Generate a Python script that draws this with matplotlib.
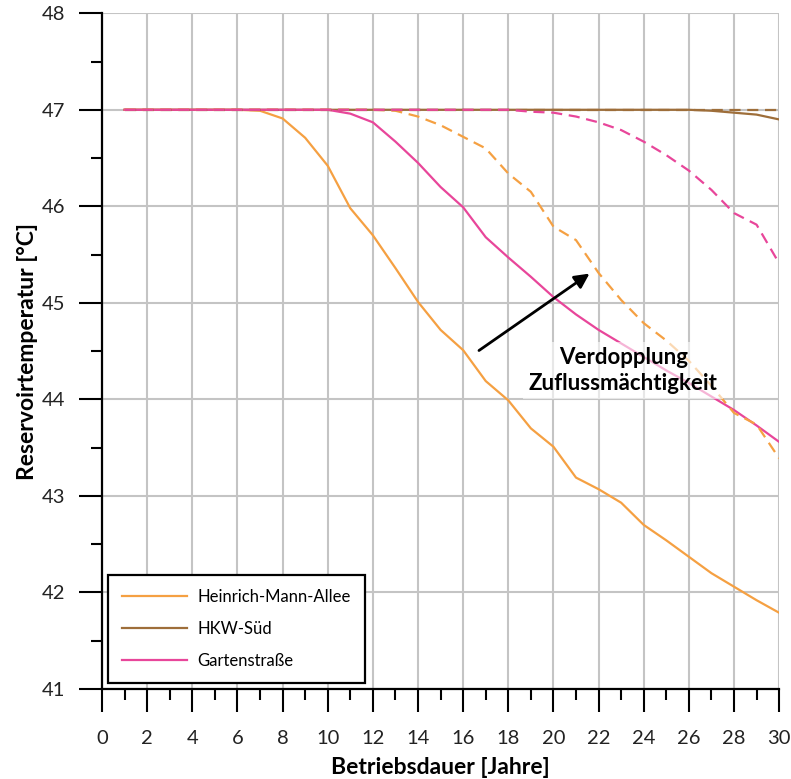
import numpy as np
import matplotlib
matplotlib.use('Agg')
import matplotlib.pyplot as plt
from matplotlib.ticker import MultipleLocator

plt.rcParams['font.family'] = ['Lato', 'DejaVu Sans']

# data
years = list(range(1, 31))

hma_base = [47.0, 47.0, 47.0, 47.0, 47.0, 47.0, 46.99, 46.91, 46.71, 46.42,
            45.98, 45.70, 45.36, 45.01, 44.72, 44.51, 44.19, 43.99, 43.70, 43.51,
            43.19, 43.07, 42.93, 42.70, 42.54, 42.37, 42.20, 42.06, 41.92, 41.79]
hma_double = [47.0, 47.0, 47.0, 47.0, 47.0, 47.0, 47.0, 47.0, 47.0, 47.0,
              47.0, 47.0, 46.99, 46.93, 46.84, 46.72, 46.60, 46.34, 46.15, 45.79,
              45.65, 45.31, 45.03, 44.79, 44.61, 44.40, 44.14, 43.86, 43.74, 43.39]
hkw_base = [47.0] * 25 + [47.0, 46.99, 46.97, 46.95, 46.90]
hkw_double = [47.0] * 30
garten_base = [47.0, 47.0, 47.0, 47.0, 47.0, 47.0, 47.0, 47.0, 47.0, 47.0,
               46.96, 46.87, 46.67, 46.45, 46.20, 45.99, 45.68, 45.47, 45.27, 45.06,
               44.88, 44.72, 44.58, 44.44, 44.30, 44.17, 44.03, 43.89, 43.73, 43.56]
garten_double = [47.0, 47.0, 47.0, 47.0, 47.0, 47.0, 47.0, 47.0, 47.0, 47.0,
                 47.0, 47.0, 47.0, 47.0, 47.0, 47.0, 47.0, 47.0, 46.98, 46.97,
                 46.93, 46.87, 46.79, 46.67, 46.53, 46.37, 46.17, 45.93, 45.81, 45.41]

labels = ['Heinrich-Mann-Allee', 'HKW-Süd', 'Gartenstraße']
c_orange = '#F5A042'
c_brown = '#9E6E3A'
c_pink = '#E8469A'


def main():
	fig = plt.figure(figsize=(7.91, 7.79), dpi=100, facecolor='white')
	ax = fig.add_axes([0.129, 0.1155, 0.856, 0.8675])

	ax.plot(years, hma_base, color=c_orange, lw=1.6, label=labels[0])
	ax.plot(years, hkw_base, color=c_brown, lw=1.6, label=labels[1])
	ax.plot(years, garten_base, color=c_pink, lw=1.6, label=labels[2])
	ax.plot(years, hma_double, color=c_orange, lw=1.6, ls=(0, (5, 3)))
	ax.plot(years, hkw_double, color=c_brown, lw=1.6, ls=(0, (5, 3)))
	ax.plot(years, garten_double, color=c_pink, lw=1.6, ls=(0, (5, 3)))

	ax.set_xlim(0, 30)
	ax.set_ylim(41, 48)
	ax.xaxis.set_major_locator(MultipleLocator(2))
	ax.xaxis.set_minor_locator(MultipleLocator(1))
	ax.yaxis.set_major_locator(MultipleLocator(1))
	ax.yaxis.set_minor_locator(MultipleLocator(0.5))
	ax.grid(True, which='major', color='#c4c4c4', lw=1.5, zorder=0)
	ax.set_axisbelow(True)

	for s in ['top', 'right']:
		ax.spines[s].set_visible(False)
	for s in ['left', 'bottom']:
		ax.spines[s].set_linewidth(1.6)
		ax.spines[s].set_zorder(5)
	ax.tick_params(which='major', direction='out', length=16.5, width=1.5,
	               labelsize=14.5, pad=10, colors='black')
	ax.tick_params(axis='x', which='major', pad=13)
	ax.tick_params(which='minor', direction='out', length=8, width=1.5)
	for lbl in ax.get_xticklabels() + ax.get_yticklabels():
		lbl.set_color('#222222')

	ax.set_xlabel('Betriebsdauer [Jahre]', fontsize=16.5, fontweight='bold', labelpad=7)
	ax.set_ylabel('Reservoirtemperatur [°C]', fontsize=16.5, fontweight='bold', labelpad=3)

	ax.annotate('', xy=(21.7, 45.32), xytext=(16.6, 44.49),
	            arrowprops=dict(arrowstyle='-|>', color='black', lw=2, mutation_scale=22))
	ax.text(23.1, 44.3, 'Verdopplung\nZuflussmächtigkeit', ha='center', va='center',
	        fontsize=16, fontweight='bold', linespacing=1.25, zorder=6,
	        bbox=dict(facecolor='white', alpha=0.6, edgecolor='none', pad=4))

	leg = ax.legend(loc='lower left', bbox_to_anchor=(0.009, 0.009), fontsize=12,
	                frameon=True, fancybox=False, framealpha=1, handlelength=3.9,
	                handletextpad=0.6, labelspacing=0.95, borderpad=0.85, borderaxespad=0)
	leg.get_frame().set_edgecolor('black')
	leg.get_frame().set_linewidth(1.6)
	leg.set_zorder(7)

	plt.savefig('out.png', dpi=100, facecolor='white')


if __name__ == '__main__':
	main()
